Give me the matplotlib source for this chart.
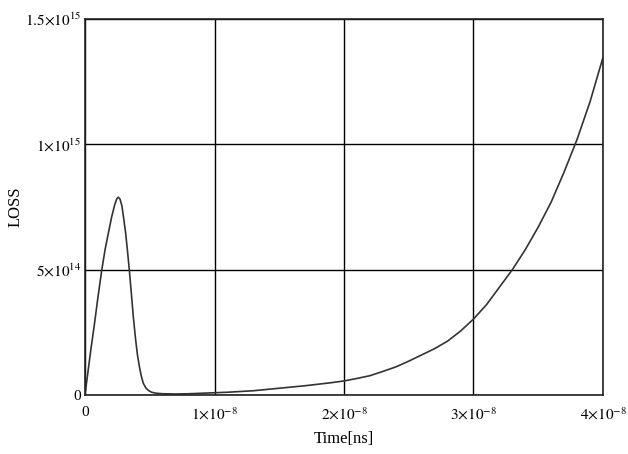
import numpy as np
import matplotlib
matplotlib.use("Agg")
import matplotlib.pyplot as plt

# valori (tempo in ns -> s, LOSS in 1e15)
time_ns = np.array([0.0, 0.18, 0.45, 0.7, 1.0, 1.29, 1.55, 1.8, 2.06, 2.3, 2.45, 2.57,
                    2.7, 2.85, 3.0, 3.14, 3.28, 3.42, 3.58, 3.73, 3.9, 4.05, 4.2, 4.35,
                    4.5, 4.7, 4.9, 5.15, 5.5, 6.0, 7.0, 8.0, 9.0,
                    10, 11, 12, 13, 14, 15, 16, 17, 18, 19, 20, 21, 22, 23, 24, 25,
                    26, 27, 28, 29, 30, 31, 32, 33, 34, 35, 36, 37, 38, 39, 40])
loss_e15 = np.array([0.0, 0.073, 0.18, 0.272, 0.39, 0.497, 0.58, 0.645, 0.711, 0.76, 0.782, 0.789,
                     0.782, 0.755, 0.70, 0.645, 0.575, 0.50, 0.405, 0.312, 0.225, 0.16, 0.113, 0.075,
                     0.047, 0.028, 0.018, 0.011, 0.007, 0.005, 0.004, 0.005, 0.007,
                     0.009, 0.011, 0.014, 0.017, 0.022, 0.027, 0.032, 0.037, 0.043, 0.049, 0.056,
                     0.066, 0.077, 0.094, 0.112, 0.135, 0.16, 0.185, 0.215, 0.255, 0.303, 0.36,
                     0.43, 0.50, 0.58, 0.67, 0.77, 0.89, 1.02, 1.17, 1.347])

xticks = [0, 1e-8, 2e-8, 3e-8, 4e-8]
xlabels = ["0", r"$1{\times}10^{-8}$", r"$2{\times}10^{-8}$", r"$3{\times}10^{-8}$", r"$4{\times}10^{-8}$"]
yticks = [0, 5e14, 1e15, 1.5e15]
ylabels = ["0", r"$5{\times}10^{14}$", r"$1{\times}10^{15}$", r"$1.5{\times}10^{15}$"]

plt.rcParams['font.family'] = 'Liberation Serif'
plt.rcParams['mathtext.fontset'] = 'stix'

fig = plt.figure(figsize=(6.28, 4.54), dpi=100)
ax = fig.add_axes([85/628, 59/454, 518/628, 376/454])

ax.plot(time_ns * 1e-9, loss_e15 * 1e15, color='#333333', lw=1.2)
ax.set_xlim(0, 4e-8)
ax.set_ylim(0, 1.5e15)
ax.set_xticks(xticks)
ax.set_xticklabels(xlabels)
ax.set_yticks(yticks)
ax.set_yticklabels(ylabels)
ax.tick_params(length=0, labelsize=11, pad=8)
ax.tick_params(axis='y', pad=3)
ax.grid(True, color='black', lw=1.0)
for s in ax.spines.values():
    s.set_linewidth(1.2)
    s.set_color('#222222')

ax.set_xlabel('Time[ns]', fontsize=12)
ax.set_ylabel('LOSS', fontsize=12)
ax.xaxis.set_label_coords(0.5, -0.096)
ax.yaxis.set_label_coords(-0.118, 0.5)

fig.savefig('out.png', dpi=100)
